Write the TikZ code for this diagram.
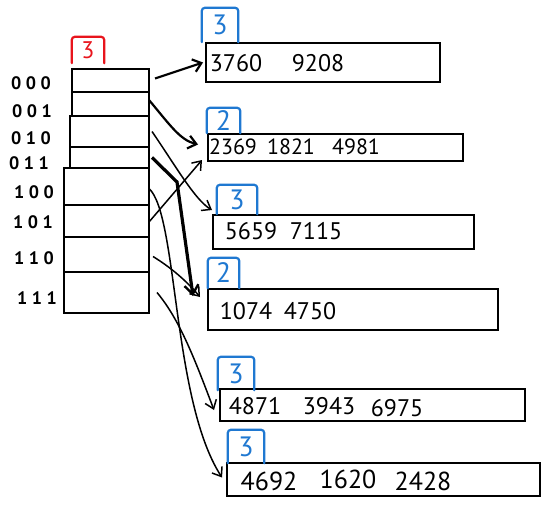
\documentclass[tikz,border=0pt]{standalone}
\usepackage{fontspec}
\setmainfont{PT Sans}
\usetikzlibrary{arrows.meta}
\definecolor{redc}{HTML}{E8141C}
\definecolor{bluec}{HTML}{1F78D1}
\begin{document}
\begin{tikzpicture}[x=1pt,y=-1pt,
  cellthin/.style={draw, line width=1.2pt, inner sep=0pt, outer sep=0pt, anchor=north west},
  cellthick/.style={draw, line width=2.4pt, inner sep=0pt, outer sep=0pt, anchor=north west},
  bucket/.style={draw, line width=2.8pt, inner sep=0pt, outer sep=0pt, anchor=north west},
  key/.style={inner sep=0pt, font=\fontsize{24}{24}\selectfont},
  smallkey/.style={inner sep=0pt, font=\fontsize{22}{22}\selectfont},
  bigkey/.style={inner sep=0pt, font=\fontsize{26}{26}\selectfont},
  addr/.style={inner sep=0pt, font=\fontsize{18}{18}\selectfont\bfseries},
  depth/.style={inner sep=0pt, text=bluec, font=\fontsize{28}{28}\selectfont},
  bracketline/.style={line width=2.2pt, rounded corners=3pt, line cap=round},
  ptr/.style={line width=2.2pt, -{Straight Barb[length=8pt,width=13pt,line width=2.2pt]}},
  thinptr/.style={line width=1.5pt, -{Straight Barb[length=8pt,width=12pt,line width=1.5pt]}}
]
\useasboundingbox (0,0) rectangle (543,506);

% directory cells
\node[cellthin, minimum width=77pt, minimum height=23pt] (d0) at (72,69) {};
\node[cellthin, minimum width=77pt, minimum height=24pt] (d1) at (72,92) {};
\node[cellthick, minimum width=79pt, minimum height=31pt] (d2) at (70,116) {};
\node[cellthick, minimum width=79pt, minimum height=21pt] (d3) at (70,147) {};
\node[cellthick, minimum width=85pt, minimum height=37pt] (d4) at (64,168) {};
\node[cellthick, minimum width=85pt, minimum height=32pt] (d5) at (64,205) {};
\node[cellthick, minimum width=85pt, minimum height=35pt] (d6) at (64,237) {};
\node[cellthick, minimum width=85pt, minimum height=41pt] (d7) at (64,272) {};

% global depth
\node[inner sep=0pt, text=redc, font=\fontsize{24}{24}\selectfont,
      minimum width=32pt, minimum height=26pt] (g) at (88,50) {3};
\draw[bracketline, redc] (g.south west) -- (g.north west) -- (g.north east) -- (g.south east);

% addresses
\node[addr] (a0) at (31,83) {0 0 0};
\node[addr] (a1) at (32,111) {0 0 1};
\node[addr] (a2) at (31,138) {0 1 0};
\node[addr] (a3) at (29,163) {0 1 1};
\node[addr] (a4) at (34,192) {1 0 0};
\node[addr] (a5) at (33,222) {1 0 1};
\node[addr] (a6) at (34,258) {1 1 0};
\node[addr] (a7) at (37,298) {1 1 1};

% buckets
\node[bucket, minimum width=234pt, minimum height=39pt] (b1) at (206,43) {};
\node[bucket, minimum width=255pt, minimum height=27pt] (b2) at (208,134) {};
\node[bucket, minimum width=261pt, minimum height=34pt] (b3) at (213,215) {};
\node[bucket, minimum width=290pt, minimum height=41pt] (b4) at (208,289) {};
\node[bucket, minimum width=305pt, minimum height=32pt] (b5) at (220,389) {};
\node[bucket, minimum width=313pt, minimum height=33pt] (b6) at (227,463) {};

% local depths
\node[depth, minimum width=36pt, minimum height=34pt] (l1) at (220,25) {3};
\node[depth, minimum width=33pt, minimum height=25pt] (l2) at (223.5,120.5) {2};
\node[depth, minimum width=40pt, minimum height=29pt] (l3) at (237,199.5) {3};
\node[depth, minimum width=31pt, minimum height=30pt] (l4) at (223.5,273) {2};
\node[depth, minimum width=36pt, minimum height=33pt] (l5) at (236,373.5) {3};
\node[depth, minimum width=36pt, minimum height=33pt] (l6) at (246,446.5) {3};
\foreach \l in {l1,l2,l3,l4,l5,l6}
  \draw[bracketline, bluec] (\l.south west) -- (\l.north west) -- (\l.north east) -- (\l.south east);

% keys
\node[key] (k11) at (236,63) {3760};
\node[key] (k12) at (318,63) {9208};
\node[smallkey] (k21) at (233,147) {2369};
\node[smallkey] (k22) at (291,147) {1821};
\node[smallkey] (k23) at (356,147) {4981};
\node[key] (k31) at (251,231) {5659};
\node[key] (k32) at (316,231) {7115};
\node[key] (k41) at (246,311) {1074};
\node[key] (k42) at (310,311) {4750};
\node[key] (k51) at (255,406) {4871};
\node[key] (k52) at (329,406) {3943};
\node[key] (k53) at (397,408) {6975};
\node[bigkey] (k61) at (269,481) {4692};
\node[bigkey] (k62) at (348,479) {1620};
\node[bigkey] (k63) at (423,481) {2428};

% pointers
\coordinate (bend) at (177,182);
\draw[ptr] ([xshift=6pt,yshift=2pt]d0.east) -- ([xshift=-3pt]b1.west);
\draw[ptr] ([yshift=4pt]d1.east) .. controls (170,125) and (180,140) .. ([xshift=-10pt,yshift=3pt]b2.west);
\draw[thinptr] ([xshift=3pt]d2.east) .. controls (175,165) and (195,200) .. ([xshift=-1pt,yshift=5pt]b3.north west);
\draw[line width=3.2pt, -{Straight Barb[length=9pt,width=14pt,line width=2.4pt]}]
  ([xshift=3pt]d3.east) -- (bend) -- ([xshift=-15pt,yshift=-7pt]b4.north west);
\draw[thinptr] ([yshift=-2pt]d4.east) .. controls (178,215) and (172,400) .. ([xshift=-5pt,yshift=2pt]b6.west);
\draw[thinptr] ([yshift=-1pt]d5.east) -- ([xshift=-6pt,yshift=1pt]b2.south west);
\draw[thinptr] ([xshift=4pt,yshift=-2pt]d6.east) .. controls (175,270) and (190,285) .. ([xshift=-8pt,yshift=-8pt]b4.north west);
\draw[thinptr] ([xshift=8pt]d7.east) .. controls (180,320) and (195,360) .. ([xshift=-6pt,yshift=-5pt]b5.west);
\end{tikzpicture}
\end{document}
